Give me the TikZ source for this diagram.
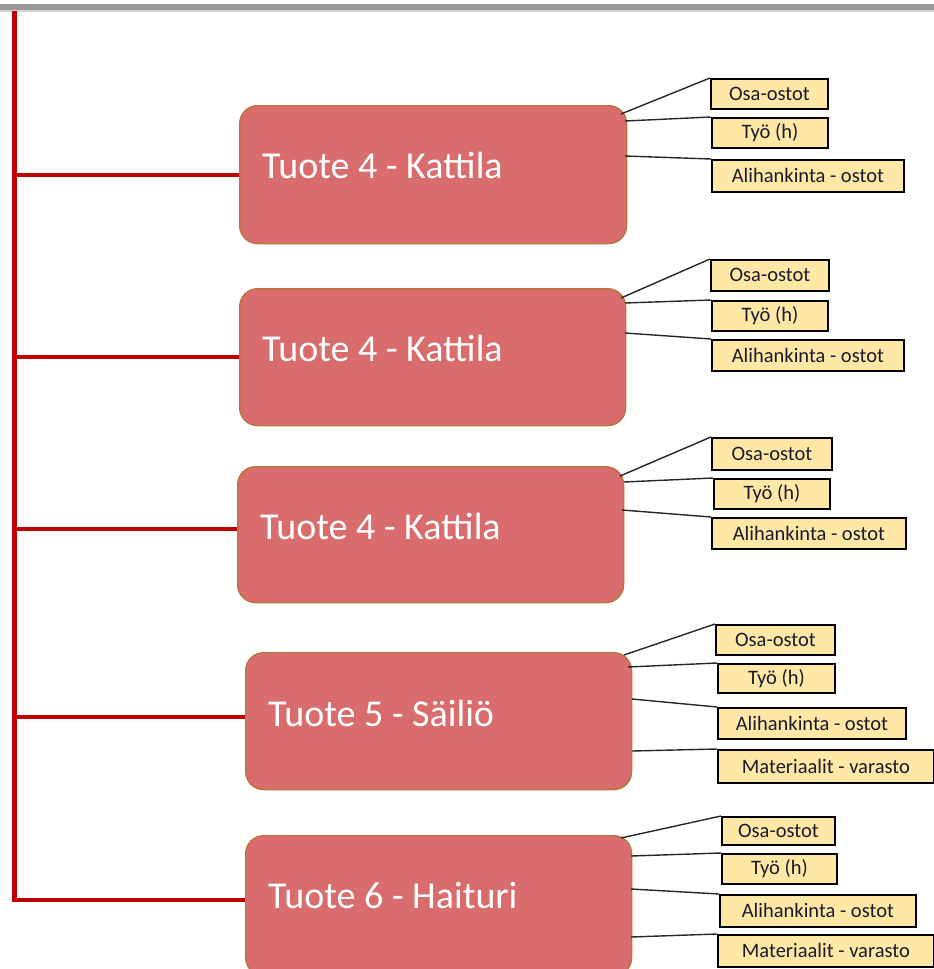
\documentclass[tikz,border=0pt]{standalone}
\usepackage{fontspec}
\setmainfont{Carlito}
\definecolor{spinered}{HTML}{C00000}
\definecolor{prodfill}{HTML}{D96C6C}
\definecolor{prodedge}{HTML}{B8743A}
\definecolor{itemfill}{HTML}{FFE8A6}
\definecolor{itemtext}{HTML}{1A1A2A}
\definecolor{barcol}{HTML}{9A9A9A}
\definecolor{barshade}{HTML}{D2D2D2}
\tikzset{
  prodbox/.style={draw=prodedge, line width=1.3pt, fill=prodfill, rounded corners=18pt,
    anchor=north west, inner sep=0pt},
  prodtext/.style={text=white, anchor=base west, inner sep=0pt,
    font=\fontsize{38}{45}\selectfont},
  itembox/.style={draw=black, line width=1.8pt, fill=itemfill, anchor=north west,
    inner sep=0pt, text=itemtext, font=\fontsize{20.5}{24}\selectfont},
  spine/.style={draw=spinered, line width=4.5pt},
  leader/.style={draw=black!85, line width=1.4pt},
}
\begin{document}
\begin{tikzpicture}[x=1pt,y=-1pt]
\useasboundingbox (0,0) rectangle (934,969);
\clip (0,0) rectangle (934,969);
% header rule
\fill[barcol] (0,4) rectangle (934,10);
\fill[barshade] (0,10) rectangle (934,11.5);

% product boxes
\node[prodbox, minimum width=387pt, minimum height=138pt] (b1) at (239,105) {};
\node[prodbox, minimum width=386pt, minimum height=137pt] (b2) at (239,288) {};
\node[prodbox, minimum width=386pt, minimum height=136pt] (b3) at (237,466) {};
\node[prodbox, minimum width=386pt, minimum height=137pt] (b4) at (245,652) {};
\node[prodbox, minimum width=386pt, minimum height=140pt] (b5) at (245,835) {};

\node[prodtext] (t1) at (262,178) {Tuote 4 - Kattila};
\node[prodtext] (t2) at (262,361) {Tuote 4 - Kattila};
\node[prodtext] (t3) at (260,539) {Tuote 4 - Kattila};
\node[prodtext] (t4) at (268,726) {Tuote 5 - Säiliö};
\node[prodtext] (t5) at (268,908) {Tuote 6 - Haituri};

% spine and branches
\coordinate (top) at (14.5,11);
\coordinate (h1) at (14.5,175);
\coordinate (h2) at (14.5,357);
\coordinate (h3) at (14.5,529);
\coordinate (h4) at (14.5,717);
\coordinate (h5) at (14.5,900);
\draw[spine, line join=miter] (top) -- (h5) -- (h5 -| b5.west);
\draw[spine] (h1) -- (h1 -| b1.west);
\draw[spine] (h2) -- (h2 -| b2.west);
\draw[spine] (h3) -- (h3 -| b3.west);
\draw[spine] (h4) -- (h4 -| b4.west);

% cost items, group 1
\node[itembox, minimum width=117pt, minimum height=30pt] (o1) at (710,78) {Osa-ostot};
\node[itembox, minimum width=116pt, minimum height=30pt] (w1) at (711,117) {Työ (h)};
\node[itembox, minimum width=192pt, minimum height=32pt] (a1) at (711,159) {Alihankinta - ostot};
\coordinate (s1a) at (621,114);
\coordinate (s1b) at (625,121);
\coordinate (s1c) at (625,156);
\draw[leader] (s1a) -- (o1.north west);
\draw[leader] (s1b) -- (w1.north west);
\draw[leader] (s1c) -- (a1.north west);

% group 2
\node[itembox, minimum width=118pt, minimum height=31pt] (o2) at (710,259) {Osa-ostot};
\node[itembox, minimum width=116pt, minimum height=30pt] (w2) at (711,300) {Työ (h)};
\node[itembox, minimum width=192pt, minimum height=31pt] (a2) at (711,339) {Alihankinta - ostot};
\coordinate (s2a) at (621,298);
\coordinate (s2b) at (625,303);
\coordinate (s2c) at (625,333);
\draw[leader] (s2a) -- (o2.north west);
\draw[leader] (s2b) -- (w2.north west);
\draw[leader] (s2c) -- (a2.north west);

% group 3
\node[itembox, minimum width=120pt, minimum height=32pt] (o3) at (711,437) {Osa-ostot};
\node[itembox, minimum width=116pt, minimum height=30pt] (w3) at (713,478) {Työ (h)};
\node[itembox, minimum width=194pt, minimum height=31pt] (a3) at (711,517) {Alihankinta - ostot};
\coordinate (s3a) at (620,476);
\coordinate (s3b) at (624,482);
\coordinate (s3c) at (622,510);
\draw[leader] (s3a) -- (o3.north west);
\draw[leader] (s3b) -- (w3.north west);
\draw[leader] (s3c) -- (a3.north west);

% group 4
\node[itembox, minimum width=119pt, minimum height=30pt] (o4) at (715,624) {Osa-ostot};
\node[itembox, minimum width=117pt, minimum height=29pt] (w4) at (717,663) {Työ (h)};
\node[itembox, minimum width=188pt, minimum height=31pt] (a4) at (717,707) {Alihankinta - ostot};
\node[itembox, minimum width=216pt, minimum height=33pt] (m4) at (717,749) {Materiaalit - varasto};
\coordinate (s4a) at (624,655);
\coordinate (s4b) at (628,667);
\coordinate (s4c) at (632,699);
\coordinate (s4d) at (632,751);
\draw[leader] (s4a) -- (o4.north west);
\draw[leader] (s4b) -- (w4.north west);
\draw[leader] (s4c) -- (a4.north west);
\draw[leader] (s4d) -- (m4.north west);

% group 5
\node[itembox, minimum width=113pt, minimum height=28pt] (o5) at (721,816) {Osa-ostot};
\node[itembox, minimum width=115pt, minimum height=30pt] (w5) at (721,853) {Työ (h)};
\node[itembox, minimum width=196pt, minimum height=32pt] (a5) at (719,894) {Alihankinta - ostot};
\node[itembox, minimum width=216pt, minimum height=32pt] (m5) at (717,934) {Materiaalit - varasto};
\coordinate (s5a) at (621,838);
\coordinate (s5b) at (631,856);
\coordinate (s5c) at (631,889);
\coordinate (s5d) at (631,937);
\draw[leader] (s5a) -- (o5.north west);
\draw[leader] (s5b) -- (w5.north west);
\draw[leader] (s5c) -- (a5.north west);
\draw[leader] (s5d) -- (m5.north west);
\end{tikzpicture}
\end{document}
